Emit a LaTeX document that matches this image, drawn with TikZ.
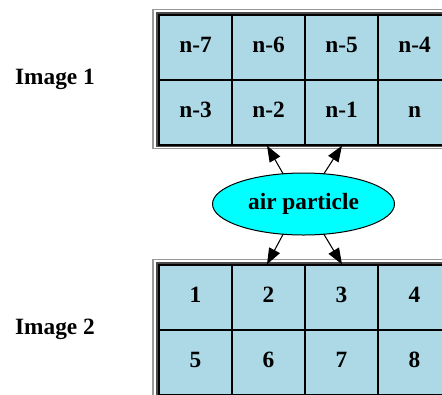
\documentclass[tikz,border=0pt]{standalone}
\usepackage{fontspec}
\setmainfont{Liberation Serif}
\usetikzlibrary{arrows.meta,shapes.geometric}
\definecolor{lblue}{RGB}{173,216,230}
\definecolor{aqua}{RGB}{0,255,255}
\tikzset{
  cell/.style={draw=black, line width=1.5pt, fill=lblue, minimum width=54.75pt, minimum height=48.75pt,
    inner sep=0pt, outer sep=0pt, text height=0.68em, text depth=0pt,
    font=\fontsize{17.5}{20}\selectfont\bfseries},
  outerframe/.style={draw=gray!80, line width=0.8pt},
  innerframe/.style={draw=black!70, line width=1.1pt},
  lbl/.style={font=\fontsize{17.5}{20}\selectfont\bfseries, inner sep=0pt},
  particle/.style={ellipse, draw=black, line width=0.75pt, fill=aqua, minimum width=136.5pt, minimum height=46.5pt,
    inner sep=0pt, outer sep=0pt, font=\fontsize{17.5}{20}\selectfont\bfseries},
  arr/.style={line width=0.8pt, -{Triangle[length=12pt,width=9pt]}}
}
\begin{document}
\begin{tikzpicture}[x=0.75pt,y=-0.75pt]
\useasboundingbox (0,0) rectangle (442,394);
\clip (0,0) rectangle (442,394);
% top table frames
\draw[outerframe] (153,9.5) rectangle (520,148.5);
\draw[innerframe] (157,13) rectangle (520,146);
% bottom table frames
\draw[outerframe] (153,259.5) rectangle (520,420);
\draw[innerframe] (157,263) rectangle (520,420);
% top cells
\node[cell] (t7) at (195.5,47.5) {n-7};
\node[cell] (t6) at (268.5,47.5) {n-6};
\node[cell] (t5) at (341.5,47.5) {n-5};
\node[cell] (t4) at (414.5,47.5) {n-4};
\node[cell] (t3) at (195.5,112.5) {n-3};
\node[cell] (t2) at (268.5,112.5) {n-2};
\node[cell] (t1) at (341.5,112.5) {n-1};
\node[cell] (t0) at (414.5,112.5) {n};
% bottom cells
\node[cell] (b1) at (195.5,297.5) {1};
\node[cell] (b2) at (268.5,297.5) {2};
\node[cell] (b3) at (341.5,297.5) {3};
\node[cell] (b4) at (414.5,297.5) {4};
\node[cell] (b5) at (195.5,362.5) {5};
\node[cell] (b6) at (268.5,362.5) {6};
\node[cell] (b7) at (341.5,362.5) {7};
\node[cell] (b8) at (414.5,362.5) {8};
% labels
\node[lbl] (img1) at (55,79) {Image 1};
\node[lbl] (img2) at (55,329) {Image 2};
% ellipse
\node[particle] (air) at (303.5,204) {air particle};
% arrows
\draw[arr] (air.124) -- ([xshift=-1.5*0.75pt,yshift=-0.5pt]t2.south);
\draw[arr] (air.56) -- ([xshift=0.5*0.75pt,yshift=-0.5pt]t1.south);
\draw[arr] (air.236) -- ([xshift=-1.5*0.75pt,yshift=0.5pt]b2.north);
\draw[arr] (air.304) -- ([xshift=0.5*0.75pt,yshift=0.5pt]b3.north);
\end{tikzpicture}
\end{document}
